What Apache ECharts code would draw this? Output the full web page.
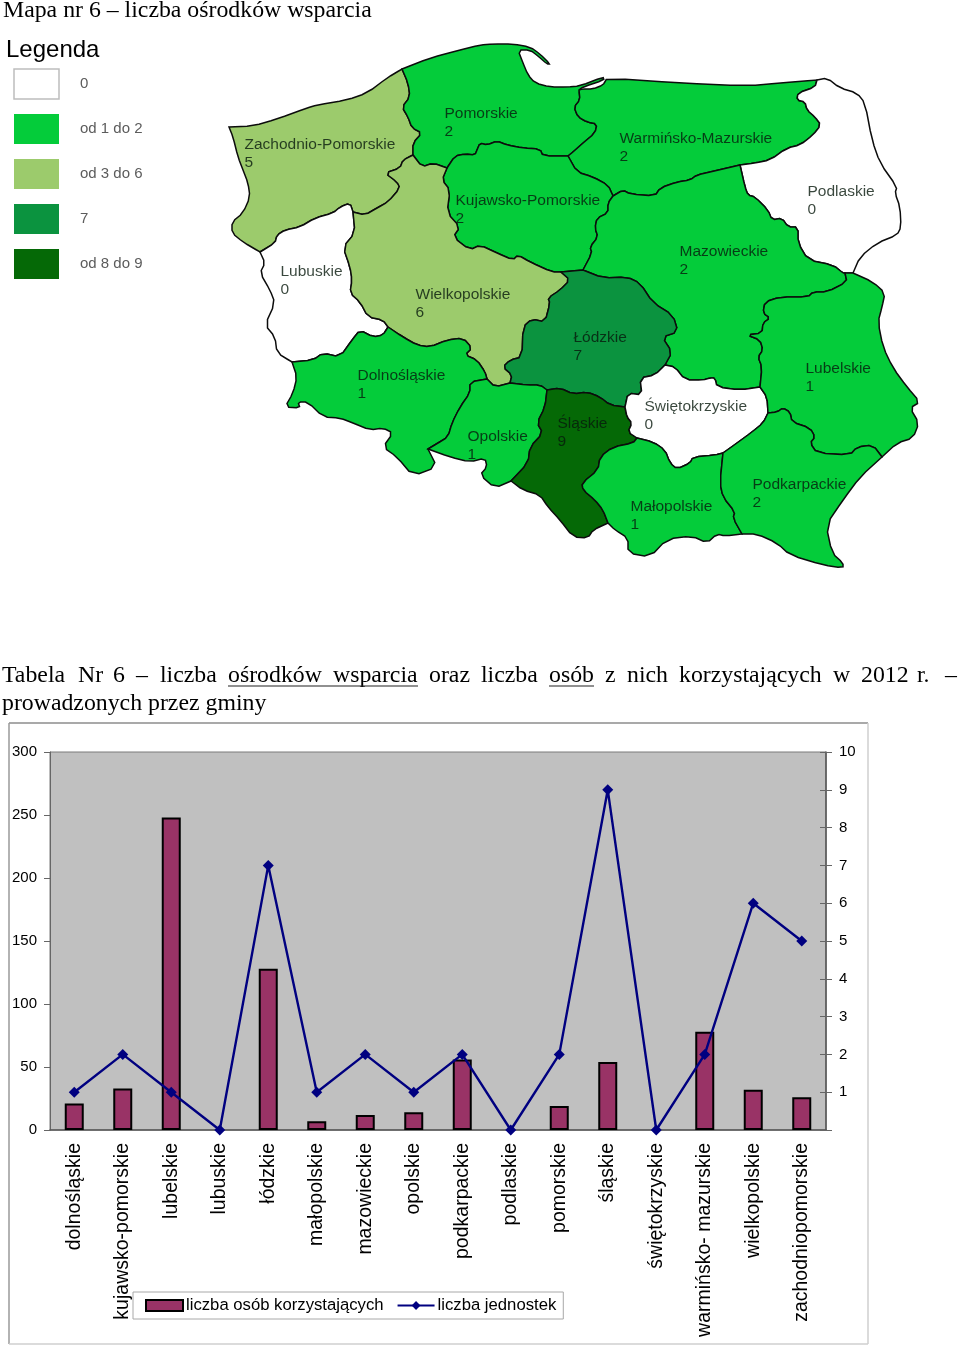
<!DOCTYPE html>
<html>
<head>
<meta charset="utf-8">
<title>Mapa nr 6</title>
<script src="https://cdn.jsdelivr.net/npm/echarts@6/dist/echarts.min.js"></script>
<style>
  html, body { margin: 0; padding: 0; background: #fff; }
  #main { width: 960px; height: 1346px; }
</style>
</head>
<body>
<div id="main"></div>
<script>
// bottom chart
const categories = ['dolnośląskie', 'kujawsko-pomorskie', 'lubelskie', 'lubuskie', 'łódzkie', 'małopolskie', 'mazowieckie', 'opolskie', 'podkarpackie', 'podlaskie', 'pomorskie', 'śląskie', 'świętokrzyskie', 'warmińsko- mazurskie', 'wielkopolskie', 'zachodniopomorskie'];
const personCounts = [21, 33, 248, 0, 128, 7, 12, 14, 56, 0, 19, 54, 0, 78, 32, 26];
const unitCounts = [1, 2, 1, 0, 7, 1, 2, 1, 2, 0, 2, 9, 0, 2, 6, 5];

// map
const regionNames = ['Zachodnio-Pomorskie', 'Pomorskie', 'Warmińsko-Mazurskie', 'Podlaskie', 'Kujawsko-Pomorskie', 'Mazowieckie', 'Lubuskie', 'Wielkopolskie', 'Łódzkie', 'Dolnośląskie', 'Opolskie', 'Śląskie', 'Świętokrzyskie', 'Małopolskie', 'Lubelskie', 'Podkarpackie'];
const regionValues = [5, 2, 2, 0, 2, 2, 0, 6, 7, 1, 1, 9, 0, 1, 1, 2];
const legendLabels = ['0', 'od 1 do 2', 'od 3 do 6', '7', 'od 8 do 9'];

const titleWords = ['Tabela', 'Nr', '6', '–', 'liczba', 'ośrodków', 'wsparcia', 'oraz', 'liczba', 'osób', 'z', 'nich', 'korzystających', 'w', '2012', 'r.', '–'];
const titleWordX = [2, 78, 113, 136, 160, 228, 333, 429, 481, 549, 605, 627, 679, 833, 861, 917, 945];

// outline of the voivodeships, one piece per shared border
const coastZach = [[229,127],[253,126],[277,119],[307,108],[317,105],[347,100],[367,93],[387,78],[402,69]];
const westZach = [[229,127],[233,137],[238,157],[243,170],[248,183],[250,197],[243,213],[232,222],[232,233],[243,242],[260,252]];
const zachLub = [[260,252],[275,243],[277,235],[285,230],[300,227],[315,218],[333,213],[340,207],[350,203],[353,212]];
const zachWiel = [[353,212],[365,215],[377,208],[388,202],[400,188],[397,182],[385,173],[400,168],[403,160],[413,155]];
const zachPom = [[413,155],[413,143],[422,133],[412,128],[408,117],[402,107],[410,97],[408,83],[402,69]];
const coastPom = [[402,69],[430,58],[460,50],[480,45],[493,44],[513,44],[530,47],[540,54],[550,64],[547,64],[538,56],[530,50],[518,50],[523,63],[528,75],[535,83],[550,87],[567,87],[580,86],[603,77],[604,80],[583,87],[579,90]];
const pomWarm = [[579,90],[580,100],[574,107],[578,117],[587,122],[597,124],[595,133],[583,143],[573,152],[568,156]];
const pomKuj = [[568,156],[543,156],[540,149],[523,148],[507,145],[497,141],[487,145],[480,143],[477,150],[475,155],[465,154],[455,156],[447,168]];
const pomWiel = [[447,168],[433,163],[422,167],[413,155]];
const kujWiel = [[447,168],[442,180],[450,190],[447,213],[460,227],[453,237],[470,250],[480,245],[497,253],[513,260],[518,255],[530,262],[552,272],[561,272]];
const kujWarm = [[568,156],[577,172],[593,177],[608,185],[613,196]];
const kujMaz = [[613,196],[608,203],[608,213],[597,218],[595,228],[598,237],[590,247],[592,253],[583,270]];
const kujLodz = [[561,272],[583,270]];
const coastWarm = [[579,90],[582,89],[593,89],[603,85],[606,80],[607,78],[680,83],[747,86],[780,83],[817,80]];
const warmMaz = [[613,196],[623,190],[630,194],[655,196],[660,188],[677,182],[690,180],[697,175],[710,172],[740,165]];
const warmPodl = [[817,80],[815,87],[798,93],[797,100],[805,102],[807,110],[815,117],[821,125],[813,135],[800,145],[787,148],[770,160],[755,163],[740,165]];
const podlEast = [[817,80],[827,78],[840,88],[857,93],[865,103],[872,140],[880,163],[897,187],[895,193],[900,207],[901,227],[897,235],[877,243],[860,257],[853,273]];
const podlMaz = [[740,165],[745,187],[748,195],[755,197],[768,210],[772,220],[782,218],[788,227],[798,227],[798,243],[808,260],[833,265],[843,273],[845,273]];
const podlLub = [[853,273],[845,273]];
const mazLub = [[845,273],[847,282],[827,292],[813,292],[808,297],[780,297],[765,302],[763,313],[770,318],[763,323],[762,333],[747,335],[760,340],[763,350],[758,357],[762,367],[760,387]];
const lubEast = [[853,273],[873,282],[885,293],[882,307],[878,322],[883,347],[893,368],[907,387],[920,402],[910,408],[919,423],[913,438],[897,443],[882,457]];
const lubPodk = [[882,457],[873,445],[857,447],[850,455],[817,453],[810,443],[815,437],[810,428],[792,422],[790,412],[783,408],[777,412],[768,413]];
const swietLub = [[760,387],[767,397],[768,413]];
const swietMaz = [[760,387],[740,390],[717,387],[715,378],[710,378],[703,380],[685,380],[675,367],[665,365]];
const mazLodz = [[583,270],[603,278],[627,277],[640,283],[653,303],[673,315],[678,332],[662,337],[672,352],[665,365]];
const swietLodz = [[665,365],[655,375],[640,378],[642,395],[628,393],[625,407]];
const lodzSlask = [[625,407],[610,405],[600,397],[587,392],[573,394],[560,388],[547,390]];
const lodzOpol = [[510,383],[527,385],[540,385],[547,390]];
const lodzWiel = [[561,272],[570,280],[560,290],[548,298],[550,303],[545,322],[532,319],[523,327],[522,357],[510,360],[503,367],[512,375],[510,383]];
const swietSlask = [[625,407],[627,417],[632,423],[628,432],[637,438]];
const swietMalo = [[637,438],[653,442],[665,450],[670,463],[677,469],[690,463],[693,457],[715,455],[723,453]];
const swietPodk = [[768,413],[763,423],[752,432],[737,443],[723,453]];
const maloPodk = [[723,453],[720,483],[723,497],[735,512],[733,518],[742,534]];
const podkSouth = [[742,534],[757,534],[777,543],[790,555],[823,565],[843,568],[843,563],[832,553],[826,525],[843,500],[860,477],[882,457]];
const maloSouth = [[742,534],[725,536],[717,534],[707,543],[692,536],[667,539],[650,557],[628,553],[628,538],[615,530],[608,523]];
const slaskMalo = [[637,438],[633,443],[613,447],[600,457],[598,470],[582,483],[583,490],[595,500],[603,510],[608,523]];
const slaskSouth = [[608,523],[593,530],[588,538],[573,537],[560,520],[548,507],[540,495],[523,490],[511,481]];
const slaskOpol = [[547,390],[545,407],[537,423],[543,433],[530,447],[528,463],[511,481]];
const opolSouth = [[511,481],[495,488],[480,475],[487,467],[485,458],[470,462],[450,457],[428,449]];
const opolDolno = [[428,449],[438,443],[448,437],[452,423],[460,407],[470,393],[470,382],[487,379]];
const opolWiel = [[487,379],[495,387],[510,383]];
const dolnoWiel = [[487,379],[485,372],[477,360],[465,355],[472,348],[463,338],[447,340],[430,347],[417,345],[403,337],[388,327]];
const dolnoLub = [[388,327],[383,335],[373,337],[360,330],[352,340],[340,357],[323,353],[313,360],[292,362]];
const dolnoSouth = [[292,362],[297,377],[293,393],[285,407],[300,408],[298,402],[308,402],[323,417],[340,418],[353,423],[370,430],[383,428],[393,433],[383,447],[397,457],[413,476],[437,467],[428,449]];
const lubWiel = [[353,212],[355,233],[343,247],[350,267],[352,280],[350,293],[360,302],[368,317],[383,320],[388,327]];
const lubWest = [[260,252],[265,263],[260,273],[270,290],[275,303],[265,325],[275,337],[277,353],[292,362]];

const rev = (a) => [...a].reverse();
const regionRings = [
    [coastZach, rev(zachPom), rev(zachWiel), rev(zachLub), rev(westZach)],
    [coastPom, pomWarm, pomKuj, pomWiel, zachPom],
    [coastWarm, warmPodl, rev(warmMaz), rev(kujWarm), rev(pomWarm)],
    [podlEast, podlLub, rev(podlMaz), rev(warmPodl)],
    [rev(pomKuj), kujWarm, kujMaz, rev(kujLodz), rev(kujWiel)],
    [warmMaz, podlMaz, mazLub, swietMaz, rev(mazLodz), rev(kujMaz)],
    [zachLub, lubWiel, dolnoLub, rev(lubWest)],
    [rev(zachWiel), lubWiel, rev(dolnoWiel), opolWiel, rev(lodzWiel), rev(kujWiel), pomWiel],
    [kujLodz, mazLodz, swietLodz, lodzSlask, rev(lodzOpol), rev(lodzWiel)],
    [rev(dolnoLub), rev(dolnoWiel), rev(opolDolno), rev(dolnoSouth)],
    [opolDolno, opolWiel, lodzOpol, slaskOpol, opolSouth],
    [lodzSlask, slaskOpol, rev(slaskSouth), rev(slaskMalo), rev(swietSlask)],
    [rev(swietMaz), swietLub, swietPodk, rev(swietMalo), rev(swietSlask), rev(swietLodz)],
    [swietMalo, maloPodk, maloSouth, rev(slaskMalo)],
    [rev(podlLub), lubEast, lubPodk, rev(swietLub), rev(mazLub)],
    [rev(lubPodk), rev(podkSouth), rev(maloPodk), rev(swietPodk)]
];
// where each region's label starts (left edge, middle of the two lines)
const regionLabelAt = [[244,154],[444,123],[619,148],[807,201],[455,210],[679,261],[280,281],[415,304],[573,347],[357,385],[467,446],[557,433],[644,416],[630,516],[805,378],[752,494]];

// round the traced corners a little, border ends stay put so neighbours still meet
function roundBorder(pts) {
    const out = [pts[0]];
    for (let i = 0; i < pts.length - 1; i++) {
        const a = pts[i], b = pts[i + 1];
        out.push([a[0] * 0.75 + b[0] * 0.25, a[1] * 0.75 + b[1] * 0.25]);
        out.push([a[0] * 0.25 + b[0] * 0.75, a[1] * 0.25 + b[1] * 0.75]);
    }
    out.push(pts[pts.length - 1]);
    return out;
}

const poland = {
    type: 'FeatureCollection',
    features: regionNames.map((name, i) => {
        const ring = regionRings[i].map(roundBorder).flat();
        ring.push(ring[0]);
        return {
            type: 'Feature',
            properties: { name: name },
            geometry: { type: 'Polygon', coordinates: [ring] }
        };
    })
};
echarts.registerMap('poland', poland);

const serif = '"Liberation Serif", serif';
const sans = '"Liberation Sans", Arial, sans-serif';

const texts = [];
const addText = (text, x, y, font, fill) => texts.push({
    type: 'text', x: x, y: y, z: 10,
    style: { text: text, font: font, fill: fill || '#000', verticalAlign: 'middle' }
});
const addLine = (x1, y1, x2, y2, color, width) => texts.push({
    type: 'line', z: 10, shape: { x1, y1, x2, y2 }, style: { stroke: color, lineWidth: width }
});

addText('Mapa nr 6 – liczba ośrodków wsparcia', 3, 11, '23.8px ' + serif);
addText('Legenda', 6, 50, '24px ' + sans);
titleWords.forEach((w, i) => addText(w, titleWordX[i], 676, '23.8px ' + serif));
addText('prowadzonych przez gminy', 2, 704, '23.8px ' + serif);
addLine(228, 686, 418, 686, '#222', 1.2);
addLine(549, 686, 594, 686, '#222', 1.2);
// chart frame
addLine(9, 723, 868, 723, '#8c8c8c', 1.5);
addLine(9, 723, 9, 1344, '#9a9a9a', 1.5);
addLine(868, 723, 868, 1344, '#cfcfcf', 1.5);
addLine(9, 1344, 868, 1344, '#cfcfcf', 1.5);
// white legend swatch has an outline, visualMap can't do it
texts.push({
    type: 'rect', z: 10,
    shape: { x: 14, y: 69, width: 45, height: 30 },
    style: { fill: 'none', stroke: '#bdbdbd', lineWidth: 1.5 }
});

const chart = echarts.init(document.getElementById('main'));
const option = {
    animation: false,
    backgroundColor: '#fff',
    textStyle: { fontFamily: sans },
    graphic: texts,
    geo: {
        map: 'poland',
        projection: { project: (p) => p, unproject: (p) => p },
        boundingCoords: [[0, 0], [960, 640]],
        left: 0,
        top: 0,
        width: 960,
        height: 640,
        aspectScale: 1,
        roam: false,
        silent: true,
        label: { show: false },
        itemStyle: { borderColor: '#0c0c0c', borderWidth: 1.5 },
        emphasis: { disabled: true }
    },
    visualMap: {
        type: 'piecewise',
        seriesIndex: 0,
        left: 9,
        top: 64,
        padding: 5,
        inverse: true,
        itemWidth: 45,
        itemHeight: 30,
        itemGap: 15,
        textGap: 21,
        itemSymbol: 'rect',
        hoverLink: false,
        selectedMode: false,
        textStyle: { color: '#5c5c5c', fontSize: 15, fontFamily: sans },
        pieces: [
            { min: 0, max: 0, label: legendLabels[0], color: '#ffffff' },
            { min: 1, max: 2, label: legendLabels[1], color: '#04CC3A' },
            { min: 3, max: 6, label: legendLabels[2], color: '#9CCB6C' },
            { min: 7, max: 7, label: legendLabels[3], color: '#0B933F' },
            { min: 8, max: 9, label: legendLabels[4], color: '#056906' }
        ]
    },
    legend: {
        left: 133,
        top: 1292,
        padding: [5, 7, 5, 12],
        itemWidth: 37,
        itemHeight: 11,
        itemGap: 13,
        backgroundColor: '#fff',
        borderColor: '#a8a8a8',
        borderWidth: 1,
        textStyle: { fontFamily: sans, fontSize: 16.7, color: '#000', padding: [0, 0, 0, -2] },
        data: [{ name: 'liczba osób korzystających', icon: 'rect' }, { name: 'liczba jednostek' }]
    },
    grid: {
        show: true,
        left: 50,
        top: 752,
        width: 776,
        height: 378,
        backgroundColor: '#C0C0C0',
        borderColor: '#7a7a7a',
        borderWidth: 1
    },
    xAxis: [
        {
            type: 'category',
            data: categories,
            axisLine: { lineStyle: { color: '#555', width: 1.5 } },
            axisTick: { length: 6, lineStyle: { color: '#777' } },
            axisLabel: {
                interval: 0, rotate: 90, margin: 13, hideOverlap: false,
                fontFamily: sans, fontSize: 19.5, color: '#000'
            }
        },
        {
            // same band ticks inside the plot, reference ticks cross the axis
            type: 'category',
            data: categories,
            position: 'bottom',
            axisLine: { show: false },
            axisTick: { inside: true, length: 6, lineStyle: { color: '#777' } },
            axisLabel: { show: false }
        }
    ],
    yAxis: [
        {
            type: 'value',
            min: 0, max: 300, interval: 50,
            splitLine: { show: false },
            axisLine: { show: true, lineStyle: { color: '#666' } },
            axisTick: { show: true, length: 6, lineStyle: { color: '#666' } },
            axisLabel: { margin: 13, padding: [4, 0, 0, 0], fontFamily: sans, fontSize: 15, color: '#000' }
        },
        {
            type: 'value',
            position: 'right',
            min: 0, max: 10, interval: 1,
            splitLine: { show: false },
            axisLine: { show: true, lineStyle: { color: '#555', width: 1.5 } },
            axisTick: { show: true, length: 6, lineStyle: { color: '#666' } },
            axisLabel: {
                margin: 13, padding: [4, 0, 0, 0], fontFamily: sans, fontSize: 15, color: '#000',
                formatter: (v) => (v === 0 ? '' : v)
            }
        },
        {
            type: 'value',
            position: 'right',
            min: 0, max: 10, interval: 1,
            splitLine: { show: false },
            axisLine: { show: false },
            axisTick: { show: true, inside: true, length: 6, lineStyle: { color: '#666' } },
            axisLabel: { show: false }
        }
    ],
    series: [
        {
            type: 'map',
            geoIndex: 0,
            silent: true,
            data: regionNames.map((name, i) => ({ name: name, value: regionValues[i] }))
        },
        {
            // invisible points, only here to carry the region captions
            type: 'scatter',
            coordinateSystem: 'geo',
            geoIndex: 0,
            symbolSize: 1,
            silent: true,
            itemStyle: { color: 'transparent' },
            label: {
                show: true,
                position: 'right',
                distance: 0,
                formatter: (p) => regionNames[p.dataIndex] + '\n' + regionValues[p.dataIndex],
                fontFamily: sans,
                fontSize: 15.5,
                lineHeight: 18,
                color: '#08190d'
            },
            z: 6,
            data: regionLabelAt
        },
        {
            name: 'liczba osób korzystających',
            type: 'bar',
            xAxisIndex: 0,
            yAxisIndex: 0,
            barWidth: 19,
            itemStyle: { color: '#993366', borderColor: '#000', borderWidth: 2 },
            // no sliver of outline for the empty bars
            data: personCounts.map((v) => (v === 0 ? { value: v, itemStyle: { borderWidth: 0 } } : v))
        },
        {
            name: 'liczba jednostek',
            type: 'line',
            xAxisIndex: 0,
            yAxisIndex: 1,
            symbol: 'diamond',
            symbolSize: 11,
            lineStyle: { color: '#000080', width: 2.4 },
            itemStyle: { color: '#000080' },
            z: 5,
            data: unitCounts
        }
    ]
};
chart.setOption(option);
</script>
</body>
</html>
